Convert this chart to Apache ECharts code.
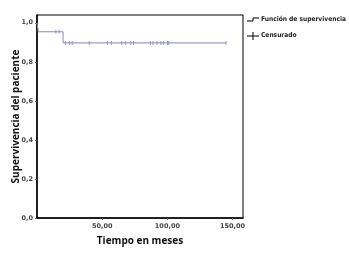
<!DOCTYPE html>
<html><head><meta charset="utf-8">
<script src="https://cdn.jsdelivr.net/npm/echarts@6/dist/echarts.min.js"></script>
<style>html,body{margin:0;padding:0;background:#fff}#c{width:349px;height:255px}</style>
</head><body><div id="c"></div>
<script>
var stepTimes = [0, 1, 20, 145];
var stepSurv = [1.0, 0.954, 0.897, 0.897];
var censTimes = [14.5, 17, 22, 25, 27, 40, 54, 57, 65, 68, 72, 74, 87, 89, 92, 95, 97, 100, 101, 145];
var censSurv = [0.954, 0.954, 0.897, 0.897, 0.897, 0.897, 0.897, 0.897, 0.897, 0.897, 0.897, 0.897, 0.897, 0.897, 0.897, 0.897, 0.897, 0.897, 0.897, 0.897];
var xTicks = [50, 100, 150];
var yTicks = [0, 0.2, 0.4, 0.6, 0.8, 1.0];
var legendLabels = ['Función de supervivencia', 'Censurado'];
var lineColor = '#8389b8';

var chart = echarts.init(document.getElementById('c'));
chart.setOption({
  animation: false,
  grid: {left: 37, right: 106, top: 15, bottom: 37, show: true, borderColor: '#000', borderWidth: 1, containLabel: false, outerBoundsMode: 'none'},
  xAxis: {
    type: 'value', min: 0, max: 158, interval: 50,
    name: 'Tiempo en meses', nameLocation: 'middle', nameGap: 18, nameMoveOverlap: false,
    nameTextStyle: {fontFamily: 'Open Sans', fontWeight: 'bold', fontSize: 10, color: '#111'},
    axisLine: {lineStyle: {color: '#000', width: 1.5}},
    axisTick: {show: true, length: 2, lineStyle: {color: '#666'}, customValues: xTicks},
    axisLabel: {fontSize: 6.5, fontWeight: 'bold', color: '#444', margin: 5, fontFamily: 'DejaVu Sans', customValues: xTicks,
      formatter: function(v){return v.toFixed(2).replace('.', ',');}},
    splitLine: {show: false}
  },
  yAxis: {
    type: 'value', min: 0, max: 1.04, interval: 0.2,
    name: 'Supervivencia del paciente', nameLocation: 'middle', nameGap: 16, nameRotate: 90, nameMoveOverlap: false,
    nameTextStyle: {fontFamily: 'Open Sans', fontWeight: 'bold', fontSize: 10, color: '#111'},
    axisLine: {show: true, lineStyle: {color: '#000', width: 1.5}},
    axisTick: {show: true, length: 2, lineStyle: {color: '#666'}, customValues: yTicks},
    axisLabel: {fontSize: 6.5, fontWeight: 'bold', color: '#444', margin: 4, fontFamily: 'DejaVu Sans', customValues: yTicks,
      formatter: function(v){return v.toFixed(1).replace('.', ',');}},
    splitLine: {show: false}
  },
  series: [
    {type: 'line', step: 'end', symbol: 'none',
     data: stepTimes.map(function(t, i){return [t, stepSurv[i]];}),
     lineStyle: {color: lineColor, width: 1}},
    {type: 'scatter', symbol: 'rect', symbolSize: [1, 4],
     data: censTimes.map(function(t, i){return [t, censSurv[i]];}),
     itemStyle: {color: lineColor}}
  ],
  graphic: [
    {type: 'polyline', shape: {points: [[247, 21], [253, 21], [253, 18], [259, 18]]}, style: {stroke: '#000', lineWidth: 1, fill: null}},
    {type: 'text', left: 261, top: 16, style: {text: legendLabels[0], font: 'bold 6.6px "DejaVu Sans Condensed"', fill: '#222'}},
    {type: 'line', shape: {x1: 247, y1: 36, x2: 259, y2: 36}, style: {stroke: '#000', lineWidth: 1}},
    {type: 'line', shape: {x1: 253, y1: 32, x2: 253, y2: 40}, style: {stroke: '#000', lineWidth: 1}},
    {type: 'text', left: 261, top: 32, style: {text: legendLabels[1], font: 'bold 6.6px "DejaVu Sans Condensed"', fill: '#222'}}
  ]
});
</script></body></html>
